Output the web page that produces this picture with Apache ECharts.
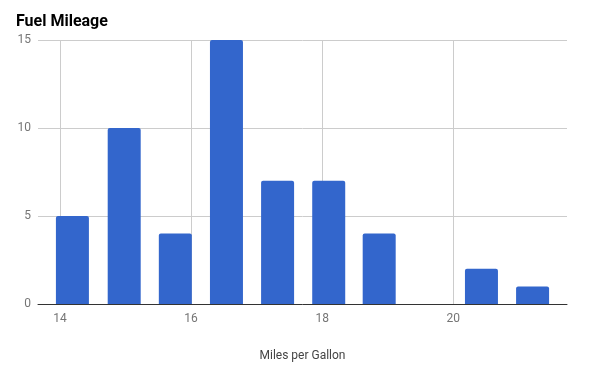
<!DOCTYPE html>
<html><head><meta charset="utf-8">
<script src="https://cdn.jsdelivr.net/npm/echarts@6/dist/echarts.min.js"></script>
<style>html,body{margin:0;padding:0;background:#fff}#c{width:600px;height:376px}</style>
</head><body><div id="c"></div>
<script>
const binCenters = [14.19, 14.98, 15.76, 16.54, 17.32, 18.10, 18.87, 19.65, 20.43, 21.21];
const counts = [5, 10, 4, 15, 7, 7, 4, 0, 2, 1];
const xTicks = [14, 16, 18, 20];
const yMax = 15;

const chart = echarts.init(document.getElementById('c'), null, {renderer: 'canvas'});
chart.setOption({
  animation: false,
  title: {text: 'Fuel Mileage', left: 16, top: 14, padding: 0,
    textStyle: {fontFamily: 'Roboto', fontWeight: 'bold', fontSize: 16, color: '#000'}},
  grid: {left: 38, right: 33, top: 40, bottom: 72},
  xAxis: {
    type: 'value', min: 13.665, max: 21.735,
    name: 'Miles per Gallon', nameLocation: 'middle', nameGap: 46,
    nameTextStyle: {fontFamily: 'Roboto', fontSize: 12, color: '#444'},
    axisLine: {show: true, lineStyle: {color: '#333', width: 1}},
    axisTick: {show: false, customValues: xTicks},
    axisLabel: {customValues: xTicks, fontFamily: 'Roboto', fontSize: 12, color: '#757575', margin: 9},
    splitLine: {show: true, lineStyle: {color: '#cccccc', width: 1}}
  },
  yAxis: {
    type: 'value', min: 0, max: yMax, interval: 5,
    axisLine: {show: false}, axisTick: {show: false},
    axisLabel: {fontFamily: 'Roboto', fontSize: 12, color: '#757575', margin: 7},
    splitLine: {lineStyle: {color: '#cccccc', width: 1}}
  },
  series: [{
    type: 'bar', barWidth: 33,
    data: binCenters.map((x, i) => [x, counts[i]]),
    itemStyle: {color: '#3366cc', borderRadius: [2, 2, 0, 0]}
  }]
});
</script></body></html>
